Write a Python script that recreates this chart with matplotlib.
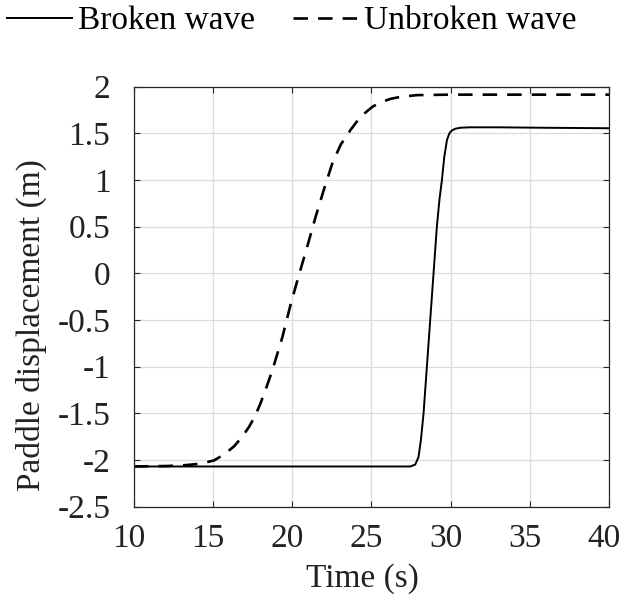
import matplotlib
matplotlib.use("Agg")
import matplotlib.pyplot as plt
from matplotlib.transforms import ScaledTranslation

# paddle trajectories, time (s) vs displacement (m)
t_broken = [10.0, 15.0, 20.0, 25.0, 27.45, 27.76, 27.97, 28.12, 28.29, 28.5,
            28.71, 28.92, 29.13, 29.3, 29.45, 29.6, 29.77, 29.92, 30.07,
            30.3, 30.6, 31.2, 33.0, 36.0, 40.0]
d_broken = [-2.07, -2.07, -2.07, -2.07, -2.07, -2.05, -1.97, -1.79, -1.5, -1.0,
            -0.5, 0.0, 0.5, 0.8, 1.0, 1.25, 1.43, 1.5, 1.53,
            1.55, 1.56, 1.565, 1.565, 1.56, 1.555]

t_unbroken = [10.0, 12.1, 13.3, 14.2, 15.06, 15.7, 16.32, 16.8, 17.27, 17.65,
              18.0, 18.37, 18.74, 19.06, 19.38, 19.9, 20.45, 20.95, 21.48,
              22.0, 22.53, 23.06, 23.69, 24.32, 25.06, 25.55, 26.2, 26.8,
              27.87, 30.0, 35.0, 40.0]
d_unbroken = [-2.07, -2.065, -2.055, -2.04, -2.005, -1.94, -1.855, -1.76, -1.645, -1.53,
              -1.39, -1.22, -1.04, -0.86, -0.68, -0.33, 0.0, 0.29, 0.61,
              0.9, 1.18, 1.38, 1.54, 1.68, 1.785, 1.83, 1.87, 1.89,
              1.91, 1.915, 1.915, 1.915]

xticks = [10, 15, 20, 25, 30, 35, 40]
yticks = [-2.5, -2, -1.5, -1, -0.5, 0, 0.5, 1, 1.5, 2]
ytick_labels = ["-2.5", "-2", "-1.5", "-1", "-0.5", "0", "0.5", "1", "1.5", "2"]

plt.rcParams['font.family'] = ['Liberation Serif', 'DejaVu Serif']
plt.rcParams['font.size'] = 24

fig = plt.figure(figsize=(6.23, 5.96), dpi=100)
ax = fig.add_axes([0.215, 0.150, 0.7625, 0.7045])

ax.plot(t_broken, d_broken, color='black', linewidth=1.4, label='Broken wave')
ax.plot(t_unbroken, d_unbroken, color='black', linewidth=1.9,
        linestyle=(0, (5.5, 3.8)), label='Unbroken wave')

ax.set_xlim(10, 40)
ax.set_ylim(-2.5, 2)
ax.set_xticks(xticks)
ax.set_yticks(yticks)
ax.set_yticklabels(ytick_labels)
ax.grid(True, color='#dcdcdc', linewidth=0.9)
ax.set_axisbelow(True)
for s in ax.spines.values():
    s.set_color('#262626')
    s.set_linewidth(0.9)
ax.tick_params(axis='both', direction='in', length=4, width=0.8,
               top=True, right=True, colors='#262626', labelcolor='#222222')
ax.tick_params(axis='x', pad=12)
ax.tick_params(axis='y', pad=17)

# x tick labels sit a few pixels left of their ticks
shift = ScaledTranslation(-5 / 100, 0, fig.dpi_scale_trans)
for lab in ax.get_xticklabels():
    lab.set_transform(lab.get_transform() + shift)

ax.set_xlabel('Time (s)', color='#222222')
ax.set_ylabel('Paddle displacement (m)', color='#222222')
ax.xaxis.set_label_coords(0.482, -0.135)
ax.yaxis.set_label_coords(-0.184, 0.432)

fig.legend(loc='center left', bbox_to_anchor=(7 / 623, 1 - 21 / 596), ncol=2,
           frameon=False, handlelength=1.95, handletextpad=0.18,
           columnspacing=1.14, borderpad=0.0, borderaxespad=0.0)

fig.savefig('out.png', dpi=100)
